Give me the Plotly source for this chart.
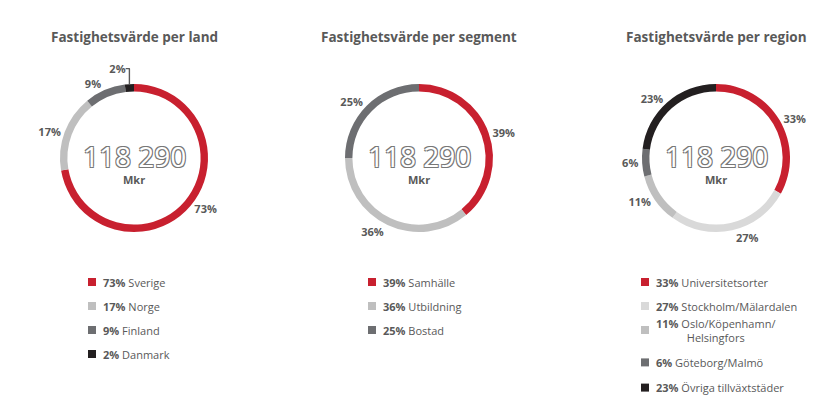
import plotly.graph_objects as go

TOTAL = "118 290"
UNIT = "Mkr"

land_titles = "Fastighetsvärde per land"
land_labels = ["Sverige", "Norge", "Finland", "Danmark"]
land_values = [73, 17, 9, 2]
land_colors = ["#c8202f", "#bfbfbf", "#6d6e71", "#231f20"]

seg_title = "Fastighetsvärde per segment"
seg_labels = ["Samhälle", "Utbildning", "Bostad"]
seg_values = [39, 36, 25]
seg_colors = ["#c8202f", "#bfbfbf", "#6d6e71"]

reg_title = "Fastighetsvärde per region"
reg_labels = ["Universitetsorter", "Stockholm/Mälardalen", "Oslo/Köpenhamn/<br>Helsingfors",
              "Göteborg/Malmö", "Övriga tillväxtstäder"]
reg_values = [33, 27, 11, 6, 23]
reg_colors = ["#c8202f", "#d9d9d9", "#bfbfbf", "#6d6e71", "#231f20"]

W, H = 815, 400
TXT = "#595959"

charts = [
    (land_titles, land_labels, land_values, land_colors, 126, 80, [0, 1, 2, 3]),
    (seg_title, seg_labels, seg_values, seg_colors, 411, 360, [0, 1, 2]),
    (reg_title, reg_labels, reg_values, reg_colors, 708, 633, [0, 1, 2, 3.35, 4.4]),
]

fig = go.Figure()
annotations = []
shapes = []
R = 74
for title, labels, values, colors, cx, lx, rows in charts:
    fig.add_trace(go.Pie(
        values=values, labels=labels, hole=0.9, sort=False, direction="clockwise",
        rotation=0, marker=dict(colors=colors, line=dict(width=0)),
        textposition="outside", texttemplate="<b>%{value}%</b>",
        textfont=dict(size=11, color=TXT), showlegend=False, hoverinfo="label+value",
        domain=dict(x=[(cx - R) / W, (cx + R) / W], y=[1 - (150 + R) / H, 1 - (150 - R) / H]),
    ))
    annotations.append(dict(x=cx / W, y=1 - 18 / H, xanchor="center", text=f"<b>{title}</b>",
                            showarrow=False, xref="paper", yref="paper", font=dict(size=13.5, color=TXT)))
    annotations.append(dict(x=cx / W, y=1 - 148 / H, xanchor="center", text=TOTAL, showarrow=False,
                            xref="paper", yref="paper",
                            font=dict(size=28, color="white",
                                      shadow="1px 1px 0 #777, -1px -1px 0 #777, 1px -1px 0 #777, -1px 1px 0 #777")))
    annotations.append(dict(x=cx / W, y=1 - 172 / H, xanchor="center", text=f"<b>{UNIT}</b>",
                            showarrow=False, xref="paper", yref="paper", font=dict(size=11, color=TXT)))
    for lab, v, c, r in zip(labels, values, colors, rows):
        yy = 274 + r * 24
        shapes.append(dict(type="rect", xref="paper", yref="paper",
                           x0=lx / W, x1=(lx + 8) / W, y0=1 - (yy + 4) / H, y1=1 - (yy - 4) / H,
                           fillcolor=c, line=dict(width=0)))
        annotations.append(dict(x=(lx + 13) / W, y=1 - yy / H, xanchor="left", yanchor="middle",
                                text=f"<b>{v}%</b> {lab}", showarrow=False, align="center",
                                xref="paper", yref="paper", font=dict(size=11, color=TXT)))

fig.update_layout(width=W, height=H, margin=dict(l=0, r=0, t=0, b=0),
                  paper_bgcolor="white", plot_bgcolor="white",
                  font=dict(family="Open Sans, Calibri, sans-serif"),
                  annotations=annotations, shapes=shapes)
fig.write_html("out.html")
